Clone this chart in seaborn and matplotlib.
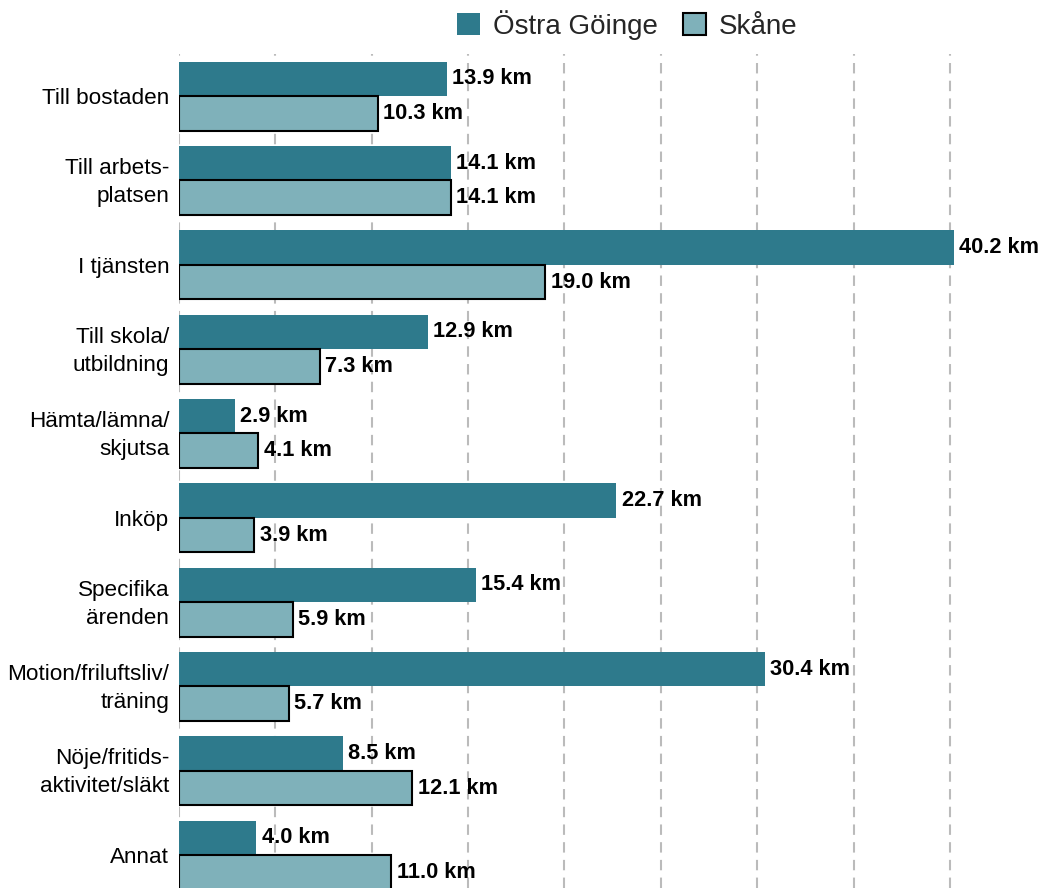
import pandas as pd
import numpy as np
import seaborn as sns
import matplotlib.pyplot as plt
import matplotlib.transforms as mtransforms
from matplotlib.patches import Patch

categories = ["Till bostaden", "Till arbets-\nplatsen", "I tjänsten", "Till skola/\nutbildning",
              "Hämta/lämna/\nskjutsa", "Inköp", "Specifika\närenden", "Motion/friluftsliv/\nträning",
              "Nöje/fritids-\naktivitet/släkt", "Annat"]
ostra_goinge = [13.9, 14.1, 40.2, 12.9, 2.9, 22.7, 15.4, 30.4, 8.5, 4.0]
skane = [10.3, 14.1, 19.0, 7.3, 4.1, 3.9, 5.9, 5.7, 12.1, 11.0]
series = ["Östra Göinge", "Skåne"]

dark = "#2e7a8c"
light = "#7fb1ba"

df = pd.DataFrame({
    "kategori": categories * 2,
    "km": ostra_goinge + skane,
    "omrade": [series[0]] * len(categories) + [series[1]] * len(categories),
})

sns.set_style("white")
plt.rcParams['font.family'] = ['Liberation Sans', 'DejaVu Sans']

fig = plt.figure(figsize=(10.38, 8.88), dpi=100)
ax = fig.add_axes([179 / 1038, 0.0, 848 / 1038, (888 - 54) / 888])

sns.barplot(data=df, y="kategori", x="km", hue="omrade", orient="h",
            palette=[dark, light], width=0.82, saturation=1, ax=ax, legend=False, zorder=3)

# ljusa staplar har svart kant
for patch in ax.containers[1]:
    patch.set_edgecolor("black")
    patch.set_linewidth(1.5)
for patch in ax.containers[0]:
    patch.set_edgecolor("none")

for cont in ax.containers:
    ax.bar_label(cont, fmt="{:.1f} km", padding=4, fontsize=15.7, fontweight="bold", color="black")

ax.set_xlim(0, 44)
ax.set_ylim(9.39, -0.5)
ax.set_xticks(np.arange(0, 45, 5))
ax.xaxis.grid(True, linestyle=(0, (5, 3.5)), color="#bbbbbb", linewidth=1.5, zorder=0)
ax.set_axisbelow(True)
ax.tick_params(axis="x", length=0, labelbottom=False)
ax.tick_params(axis="y", length=0, pad=7, labelsize=16.2, labelcolor="black")
shift_up = mtransforms.ScaledTranslation(0, 4 / 100, fig.dpi_scale_trans)
for lab in ax.get_yticklabels():
    lab.set_linespacing(1.45)
    if "\n" in lab.get_text():
        lab.set_transform(lab.get_transform() + shift_up)
ax.set_xlabel("")
ax.set_ylabel("")
for s in ax.spines.values():
    s.set_visible(False)

handles = [Patch(facecolor=dark, edgecolor="none"),
           Patch(facecolor=light, edgecolor="black", linewidth=1.5)]
fig.legend(handles, series, loc="center", bbox_to_anchor=(627 / 1038, 1 - 25 / 888), ncol=2,
           frameon=False, fontsize=20, handlelength=0.85, handleheight=0.85,
           handletextpad=0.45, columnspacing=0.9)

fig.savefig("out.png", dpi=100)
